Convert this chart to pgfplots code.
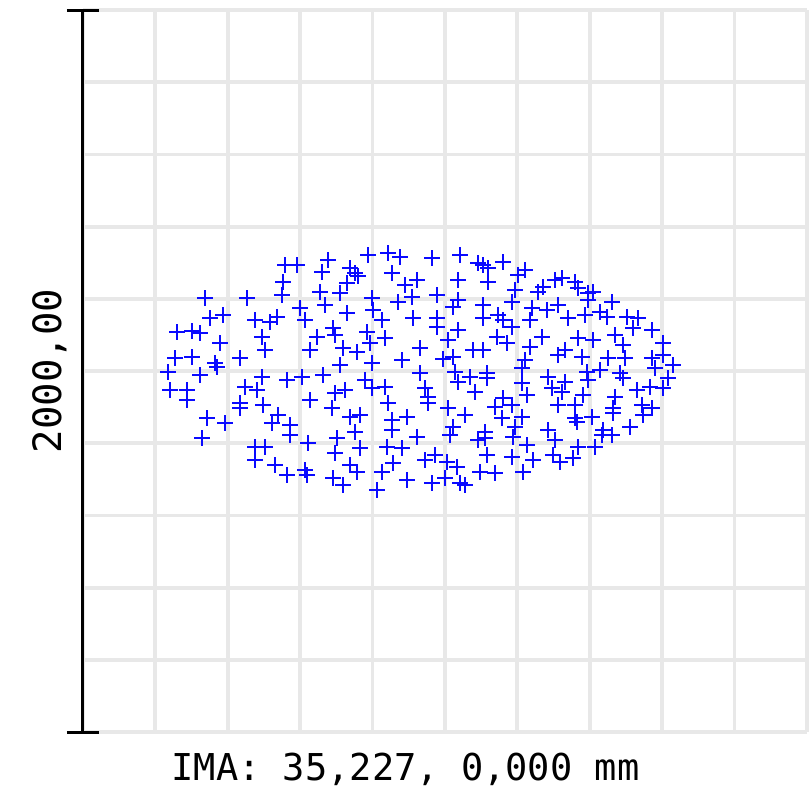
\documentclass[border=0pt]{standalone}
\usepackage{pgfplots}
\pgfplotsset{compat=1.18}
\usepackage{fontspec}
\newfontfamily\monofont{DejaVu Sans Mono}
\definecolor{gridgray}{RGB}{232,232,232}
\definecolor{spotblue}{RGB}{10,10,255}
\begin{document}
\begin{tikzpicture}[x=0.5pt,y=0.5pt]
\useasboundingbox (-41.5pt,-28pt) rectangle (364pt,366pt);
\begin{axis}[
  at={(0pt,0pt)}, anchor=south west,
  scale only axis, width=362pt, height=361pt,
  xmin=83, xmax=807, ymin=10, ymax=732, y dir=reverse,
  axis line style={draw=none},
  xtick={83,155.4,227.8,300.2,372.6,445,517.4,589.8,662.2,734.6,807},
  ytick={10,82.2,154.4,226.6,298.8,371,443.2,515.4,587.6,659.8,732},
  xticklabels={}, yticklabels={},
  major tick length=0pt,
  grid=major,
  major grid style={gridgray, line width=1.9pt},
  clip=false,
]
\addplot[only marks, mark=+, mark size=3.8pt, color=spotblue, mark options={line width=0.9pt}] coordinates {
(285,265)(283,282)(282,295)(205,298)(247,298)(223,315)(210,318)(255,320)(270,322)(277,317)
(177,332)(192,331)(200,333)(262,337)(220,343)(265,350)(175,358)(192,357)(240,358)(215,363)
(297,265)(328,260)(368,255)(388,253)(400,257)(322,272)(350,268)(355,273)(358,276)(347,283)
(392,273)(320,292)(340,293)(405,285)(412,297)(398,302)(372,298)(373,310)(325,305)(300,308)
(305,320)(347,313)(382,320)(413,318)(333,328)(335,335)(317,337)(367,332)(370,343)(385,338)
(310,350)(343,348)(357,352)(420,348)(340,365)(372,363)(402,360)
(432,258)(460,255)(478,263)(483,265)(488,268)(503,262)(525,270)(518,275)(417,280)(458,280)
(488,282)(515,290)(538,292)(543,287)(437,295)(458,300)(453,307)(483,305)(483,318)(512,302)
(532,308)(530,320)(437,318)(437,327)(498,315)(503,320)(512,327)(458,330)(448,340)(497,337)
(507,343)(542,337)(530,347)(473,350)(483,350)(453,357)(443,359)(525,360)
(555,280)(562,278)(575,282)(578,288)(588,293)(593,292)(588,300)(612,302)(547,310)(558,305)
(568,318)(585,315)(600,312)(607,317)(627,317)(638,318)(633,328)(652,330)(615,335)(578,338)
(593,340)(623,345)(663,343)(565,350)(558,355)(582,357)(608,358)(625,358)(652,358)(663,355)
(673,365)
(168,372)(200,375)(217,367)(170,390)(187,390)(187,400)(207,418)(225,423)(202,438)(262,377)
(245,387)(257,390)(240,403)(240,408)(263,405)(278,415)(272,423)(255,447)(265,447)(255,460)
(275,465)
(302,377)(323,375)(287,380)(365,380)(372,388)(345,390)(335,393)(385,387)(310,400)(332,408)
(388,403)(360,415)(350,417)(355,432)(392,420)(407,417)(392,430)(290,425)(290,435)(337,438)
(335,453)(308,443)(360,448)(387,447)(402,448)(417,437)(305,470)(307,475)(287,475)(350,465)
(357,472)(393,463)(382,472)(333,478)(343,485)(377,490)(407,480)
(420,373)(455,372)(458,382)(470,377)(487,373)(487,378)(522,368)(522,383)(425,388)(428,397)
(428,403)(475,392)(527,395)(448,408)(465,415)(495,407)(503,398)(512,405)(502,418)(522,417)
(515,427)(513,437)(453,427)(450,435)(485,432)(485,438)(478,440)(527,445)(435,455)(425,460)
(447,462)(457,467)(487,455)(512,457)(533,460)(480,472)(495,473)(523,472)(445,478)(432,483)
(460,483)(465,485)
(548,377)(565,382)(587,372)(588,380)(600,370)(620,373)(623,378)(655,368)(668,378)
(552,388)(562,392)(583,395)(615,397)(637,390)(650,387)(663,388)(558,405)(575,405)(613,408)
(613,413)(642,405)(652,408)(575,418)(577,422)(592,417)(643,415)(630,427)(548,430)(555,440)
(603,430)(602,435)(612,435)(578,447)(595,447)(553,455)(560,462)(573,458)
};
\draw[black, line width=1.5pt] (axis cs:83,10) -- (axis cs:83,732);
\draw[black, line width=1.5pt] (axis cs:67,10) -- (axis cs:99,10);
\draw[black, line width=1.5pt] (axis cs:67,732) -- (axis cs:99,732);
\node[rotate=90, anchor=base, inner sep=0pt, font=\monofont\fontsize{19.5pt}{20pt}\selectfont] at (axis cs:62,371) {2000,00};
\node[anchor=base, inner sep=0pt, font=\monofont\fontsize{18.5pt}{20pt}\selectfont] at (axis cs:405.5,780) {IMA: 35,227, 0,000 mm};
\end{axis}
\end{tikzpicture}
\end{document}
